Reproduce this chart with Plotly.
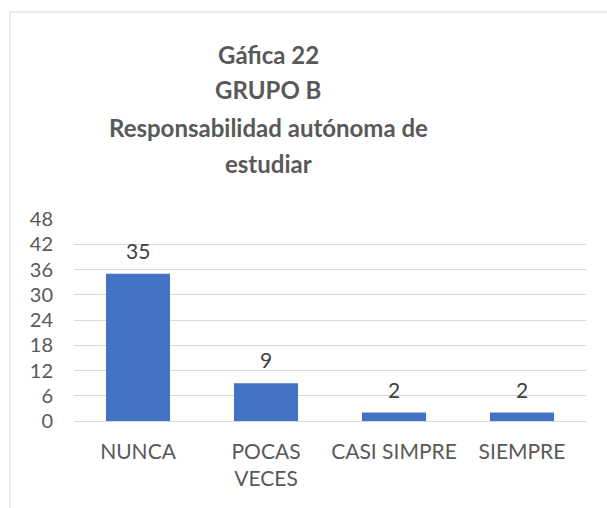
import plotly.graph_objects as go

categories = ["NUNCA", "POCAS<br>VECES", "CASI SIMPRE", "SIEMPRE"]
values = [35, 9, 2, 2]
tick_vals = [0, 6, 12, 18, 24, 30, 36, 42, 48]
title_lines = ["Gáfica 22", "GRUPO B", "Responsabilidad autónoma de", "estudiar"]

FONT = "Lato"
fig = go.Figure()
fig.add_trace(go.Bar(x=categories, y=values, marker_color="#4472C4", width=0.5,
                     marker_line_width=0, hoverinfo="skip"))

for c, v in zip(categories, values):
    fig.add_annotation(x=c, y=v, text=str(v), showarrow=False, yanchor="bottom",
                       yshift=9, font=dict(family=FONT, size=21, color="#404040"))

W, H = 607, 508
L, R, T, B = 74, 21, 219, 87
pw, ph = W - L - R, H - T - B
def px(x):
    return (x - L) / pw
def py(y):
    return 1 - (y - T) / ph

title_y = [54, 90, 127, 163]
for t, y in zip(title_lines, title_y):
    fig.add_annotation(x=px(268), y=py(y), xref="paper", yref="paper", text="<b>%s</b>" % t,
                       showarrow=False, xanchor="center", yanchor="middle",
                       font=dict(family=FONT, size=24, color="#595959"))

fig.add_shape(type="rect", xref="paper", yref="paper", x0=px(10), y0=py(600), x1=px(700), y1=py(12),
              line=dict(color="#D9D9D9", width=1), fillcolor="rgba(0,0,0,0)", layer="below")

fig.update_layout(
    width=W, height=H, margin=dict(l=L, r=R, t=T, b=B),
    paper_bgcolor="white", plot_bgcolor="white", showlegend=False,
    bargap=0.5,
    xaxis=dict(showgrid=False, showline=False, zeroline=False, ticks="",
               tickfont=dict(family=FONT, size=21, color="#595959"), ticklabelstandoff=16),
    yaxis=dict(range=[0, 48], tickvals=tick_vals, showgrid=True, gridcolor="#D9D9D9", gridwidth=1,
               zeroline=True, zerolinecolor="#D9D9D9", zerolinewidth=1, showline=False, ticks="",
               tickfont=dict(family=FONT, size=20, color="#595959"), ticklabelstandoff=20),
)
fig.write_html("out.html", config={"displayModeBar": False},
               post_script="document.body.style.margin='0';document.body.style.overflow='hidden';")
